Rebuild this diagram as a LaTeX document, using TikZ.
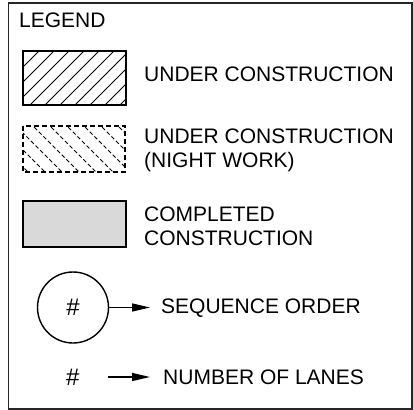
\documentclass[tikz,border=0pt]{standalone}
\usepackage{fontspec}
\setmainfont{Liberation Sans}
\usetikzlibrary{arrows.meta}
\begin{document}
\begin{tikzpicture}[x=1pt,y=-1pt,
  lbl/.style={anchor=base west,inner sep=0pt,align=left,font=\fontsize{21}{24}\selectfont},
  hashfont/.style={font=\fontsize{24}{26}\selectfont},
  frameline/.style={draw=black!85,line width=1.4pt},
  boxline/.style={draw=black,line width=1.6pt},
  hatchline/.style={draw=black,line width=0.9pt},
  arr/.style={draw=black,line width=1.4pt,-{Triangle[length=18pt,width=8pt]}}
]
\useasboundingbox (0,0) rectangle (413,410);
\draw[frameline] (8.3,2.8) rectangle (412,409);
\node[lbl] (legend) at (19,27) {LEGEND};
% under construction
\begin{scope}
  \clip (23,51) rectangle (126,105);
  \foreach \c in {0,15,...,240} {
    \draw[hatchline] (\c,0) -- (\c-120,120);
  }
\end{scope}
\draw[boxline] (23,51) rectangle (126,105);
\node[lbl] (uc) at (144,81.5) {UNDER CONSTRUCTION};
% night work
\begin{scope}
  \clip (23,126) rectangle (125,172);
  \foreach \c in {-60,-43,...,140} {
    \draw[hatchline,dash pattern=on 4pt off 2.5pt] (\c,118) -- (\c+80,198);
  }
\end{scope}
\draw[boxline,line width=1.3pt,dash pattern=on 5pt off 3pt] (23,126) rectangle (125,172);
\node[lbl] (nw) at (144,167) {UNDER CONSTRUCTION\\(NIGHT WORK)};
% completed
\draw[boxline,fill=black!15] (23,201) rectangle (126,247);
\node[lbl] (cc) at (144,245.5) {COMPLETED\\CONSTRUCTION};
% sequence order
\node[draw=black,line width=1.4pt,circle,minimum size=71pt,inner sep=0pt,hashfont] (seq) at (73,307.5) {\#};
\coordinate (seqend) at (150,307.5);
\draw[arr] (seq.east) -- (seqend);
\node[lbl] (so) at (161,313.5) {SEQUENCE ORDER};
% number of lanes
\node[lbl,hashfont] (hash) at (66,385) {\#};
\coordinate (lanesstart) at (108,377);
\coordinate (lanesend) at (150,377);
\draw[arr] (lanesstart) -- (lanesend);
\node[lbl] (nl) at (163,384) {NUMBER OF LANES};
\end{tikzpicture}
\end{document}
